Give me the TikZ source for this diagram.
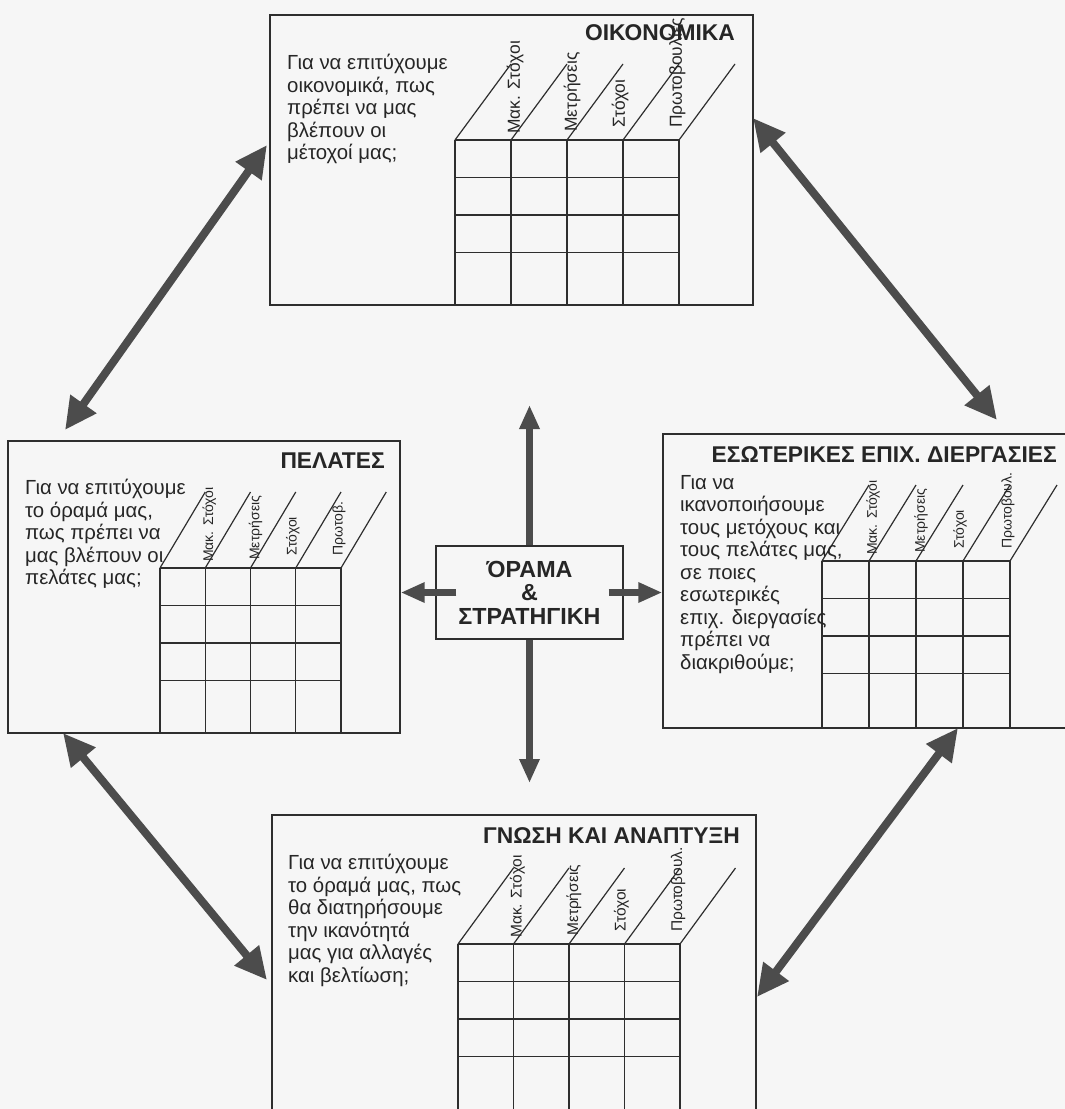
\documentclass[tikz,border=0pt]{standalone}
\usepackage{fontspec}
\setmainfont{Liberation Sans}
\usetikzlibrary{arrows.meta,calc,positioning}
\definecolor{paper}{gray}{0.965}
\definecolor{boxline}{gray}{0.18}
\definecolor{ink}{gray}{0.15}
\definecolor{arrowgray}{gray}{0.3}
\newcommand{\scoregrid}[7]{%
  \foreach \r in {0,...,3}
    \draw[gridline] (#2,#3+\r*37.5) -- (#2+4*#4,#3+\r*37.5);
  \foreach \c in {0,...,4} {
    \draw[gridline] (#2+\c*#4,#3) -- (#2+\c*#4,#5);
    \draw[gridline] (#2+\c*#4,#3) -- ++(#4,-76);
  }
  \foreach \c/\dx/\dy/\lbl in {1/4/6/Μακ. Στόχοι,2/5/8/Μετρήσεις,3/-3/12/Στόχοι,4/-2/12/#7}
    \node[colhead,font=\fontsize{#6}{#6}\selectfont] (#1-h\c) at (#2+\c*#4+\dx,#3-\dy) {\lbl};
}

\begin{document}
\begin{tikzpicture}[x=1pt,y=-1pt,
    persp/.style={draw=boxline,line width=1.4pt},
    qtext/.style={font=\fontsize{20.4}{22.5}\selectfont,align=left,anchor=north west,inner sep=0pt,text=ink},
    ptitle/.style={font=\bfseries\fontsize{22.8}{26}\selectfont,anchor=base east,inner sep=0pt,text=ink},
    gridline/.style={draw=boxline,line width=1.2pt},
    colhead/.style={rotate=90,anchor=west,inner sep=0pt,text=ink},
    dblarrow/.style={draw=arrowgray,line width=8pt,{Triangle[length=32pt,width=30pt]}-{Triangle[length=32pt,width=30pt]}},
    outarrow/.style={draw=arrowgray,line width=7pt,-{Triangle[length=24pt,width=19pt]}}]
    \fill[paper] (0,0) rectangle (1065,1109);
    \useasboundingbox (0,0) rectangle (1065,1109);
    \clip (0,0) rectangle (1065,1109);

    \node[persp,minimum width=483pt,minimum height=290pt] (fin) at (511.5,160) {};
    \node[persp,minimum width=392pt,minimum height=292pt] (cust) at (204,587) {};
    \node[persp,minimum width=417pt,minimum height=294pt] (proc) at (871.5,581) {};
    \node[persp,minimum width=484pt,minimum height=310pt] (learn) at (514,970) {};
    \node[persp,text=ink,font=\bfseries\fontsize{23.3}{23.5}\selectfont,align=center,minimum width=187pt,minimum height=93pt] (vision) at (529.5,592.5) {ΌΡΑΜΑ\\\&\\ΣΤΡΑΤΗΓΙΚΗ};

    \scoregrid{fin}{455}{140}{56}{305}{17.4}{Πρωτοβουλίες}
    \scoregrid{cust}{160}{568}{45.25}{733}{14}{Πρωτοβ.}
    \scoregrid{proc}{822}{561}{47}{728}{14}{Πρωτοβουλ.}
    \scoregrid{learn}{458}{944}{55.5}{1120}{15.5}{Πρωτοβουλ.}

    \node[ptitle] (fint) at (735,40) {ΟΙΚΟΝΟΜΙΚΑ};
    \node[ptitle] (custt) at (385,468) {ΠΕΛΑΤΕΣ};
    \node[ptitle] (proct) at (1057,462) {ΕΣΩΤΕΡΙΚΕΣ ΕΠΙΧ. ΔΙΕΡΓΑΣΙΕΣ};
    \node[ptitle] (learnt) at (740,843) {ΓΝΩΣΗ ΚΑΙ ΑΝΑΠΤΥΞΗ};

    \node[qtext] (finq) at (287,54) {Για να επιτύχουμε\\οικονομικά, πως\\πρέπει να μας\\βλέπουν οι\\μέτοχοί μας;};
    \node[qtext] (custq) at (25,479) {Για να επιτύχουμε\\το όραμά μας,\\πως πρέπει να\\μας βλέπουν οι\\πελάτες μας;};
    \node[qtext] (procq) at (680,475) {Για να\\ικανοποιήσουμε\\τους μετόχους και\\τους πελάτες μας,\\σε ποιες\\εσωτερικές\\επιχ. διεργασίες\\πρέπει να\\διακριθούμε;};
    \node[qtext] (learnq) at (288,854) {Για να επιτύχουμε\\το όραμά μας, πως\\θα διατηρήσουμε\\την ικανότητά\\μας για αλλαγές\\και βελτίωση;};

    \coordinate (tl1) at (267,145);
    \coordinate (tl2) at (65,430);
    \coordinate (tr1) at (753,118);
    \coordinate (tr2) at (997,420);
    \coordinate (bl1) at (63,733);
    \coordinate (bl2) at (267,980);
    \coordinate (br1) at (958,728);
    \coordinate (br2) at (757,997);
    \coordinate (vup) at (529.5,405);
    \coordinate (vdown) at (529.5,783);

    \draw[dblarrow] (tl1) -- (tl2);
    \draw[dblarrow] (tr1) -- (tr2);
    \draw[dblarrow] (bl1) -- (bl2);
    \draw[dblarrow] (br1) -- (br2);

    \draw[outarrow] (vision.north) -- (vup);
    \draw[outarrow] (vision.south) -- (vdown);
    \draw[outarrow] ($(vision.west)+(21,0)$) -- (cust.east |- vision.west);
    \draw[outarrow] ($(vision.east)+(-15,0)$) -- (proc.west |- vision.east);
\end{tikzpicture}
\end{document}
